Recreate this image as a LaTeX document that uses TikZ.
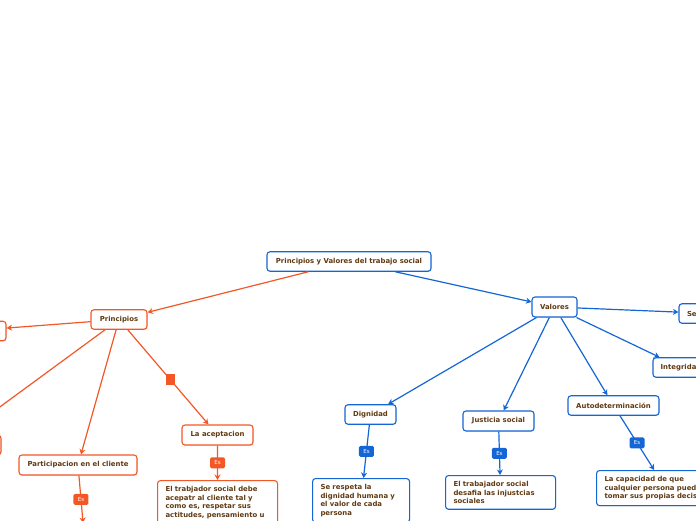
\documentclass[tikz,border=0pt]{standalone}
\usepackage{fontspec}
\setmainfont{DejaVu Sans}
\usetikzlibrary{positioning, arrows.meta}
\usetikzlibrary{shadows}
\definecolor{map_orange}{RGB}{243,87,38}
\definecolor{map_blue}{RGB}{20,102,214}
\definecolor{map_text}{RGB}{96,58,18}

\tikzset{
  idea/.style={draw, rectangle, rounded corners=3pt, line width=1.1pt, fill=white, text=map_text,
    font=\fontsize{6.9}{8}\selectfont\bfseries, inner sep=0pt, minimum height=19.5pt, align=center,
    drop shadow={shadow xshift=0.6pt, shadow yshift=-0.9pt, opacity=0.18}},
  orange_idea/.style={idea, draw=map_orange},
  blue_idea/.style={idea, draw=map_blue},
  note/.style={anchor=north west, align=left, inner xsep=8pt, inner ysep=5.5pt,
    font=\fontsize{6.9}{8.7}\selectfont\bfseries},
  es_label/.style={text=white, rounded corners=1.5pt, minimum width=15pt, minimum height=11pt,
    inner sep=0pt, font=\fontsize{5.5}{6}\selectfont},
  orange_line/.style={draw=map_orange, line width=1.2pt},
  blue_line/.style={draw=map_blue, line width=1.2pt}
}

\begin{document}
\begin{tikzpicture}[>={Stealth[length=5.5pt, width=6pt]}, x=1pt, y=-1pt]

    \useasboundingbox (0,0) rectangle (696,520);
    \clip (0,0) rectangle (696,520);

    % --- Begin Root Node ---
    \node [blue_idea, minimum width=164pt] (Root) at (349,261.5) {Principios y Valores del trabajo social};
    % --- End Root Node ---

    % --- Begin Principios Node ---
    \node [orange_idea, minimum width=56pt] (Principios) at (119,319.5) {Principios};

    % Nodes cut off by the left edge.
    \node [orange_idea, minimum width=76pt] (principios_left_a) at (-32,331) {};
    \node [orange_idea, minimum width=106pt] (principios_left_b) at (-52,445) {};

    \node [orange_idea, minimum width=118pt, minimum height=20pt] (Participacion) at (78,465) {Participacion en el cliente};
    \node [orange_idea, note, anchor=north, text width=100pt, minimum height=44pt] (participacion_text) at (85,523) {};

    \node [orange_idea, minimum width=71pt, minimum height=20pt] (LaAceptacion) at (217.5,435) {La aceptacion};
    \node [orange_idea, note, text width=104pt] (aceptacion_text) at (157,480) {
        El trabjador social debe \\
        acepatr al cliente tal y \\
        como es, respetar sus \\
        actitudes, pensamiento u
    };
    % --- End Principios Node ---

    % --- Begin Valores Node ---
    \node [blue_idea, minimum width=45pt, minimum height=20pt] (Valores) at (554.5,307) {Valores};

    \node [blue_idea, text width=50pt, inner xsep=8pt, align=left] (Servicio) at (712,313.5) {Servicio};
    \node [blue_idea, minimum width=56pt] (Integridad) at (681,367.5) {Integridad};

    \node [blue_idea, minimum width=51pt] (Dignidad) at (370.5,414.5) {Dignidad};
    \node [blue_idea, note, text width=81pt] (dignidad_text) at (312,478) {
        Se respeta la \\
        dignidad humana y \\
        el valor de cada \\
        persona
    };

    \node [blue_idea, minimum width=71pt, minimum height=20pt] (JusticiaSocial) at (498.5,421) {Justicia social};
    \node [blue_idea, note, text width=94pt] (justicia_text) at (445,475) {
        El trabajador social \\
        desafia las injustcias \\
        sociales
    };

    \node [blue_idea, minimum width=91pt] (Autodeterminacion) at (613.5,405.5) {Autodeterminación};
    \node [blue_idea, note, text width=122pt] (autodeterminacion_text) at (596,470) {
        La capacidad de que \\
        cualquier persona pueda \\
        tomar sus propias decisiones
    };
    % --- End Valores Node ---

    % Connect the nodes.
    \draw[orange_line, ->] (Root) -- (Principios);
    \draw[blue_line, ->] (Root) -- (Valores);

    \draw[orange_line, ->] (Principios) -- (principios_left_a);
    \draw[orange_line, ->] (Principios) -- (principios_left_b);
    \draw[orange_line, ->] (Principios) -- (Participacion);
    \draw[orange_line, ->] (Principios) -- node[fill=map_orange, minimum width=9pt, minimum height=11pt, inner sep=0pt, pos=0.53] {} (LaAceptacion);
    \draw[orange_line, ->] (Participacion) -- node[es_label, fill=map_orange] {Es} (participacion_text);
    \draw[orange_line, ->] (LaAceptacion) -- node[es_label, fill=map_orange] {Es} (aceptacion_text);

    \draw[blue_line, ->] (Valores) -- (Servicio);
    \draw[blue_line, ->] (Valores) -- (Integridad);
    \draw[blue_line, ->] (Valores) -- (Dignidad);
    \draw[blue_line, ->] (Valores) -- (JusticiaSocial);
    \draw[blue_line, ->] (Valores) -- (Autodeterminacion);
    \draw[blue_line, ->] (Dignidad) -- node[es_label, fill=map_blue] {Es} (dignidad_text);
    \draw[blue_line, ->] (JusticiaSocial) -- node[es_label, fill=map_blue] {Es} (justicia_text);
    \draw[blue_line, ->] (Autodeterminacion) -- node[es_label, fill=map_blue] {Es} (autodeterminacion_text);

\end{tikzpicture}
\end{document}
